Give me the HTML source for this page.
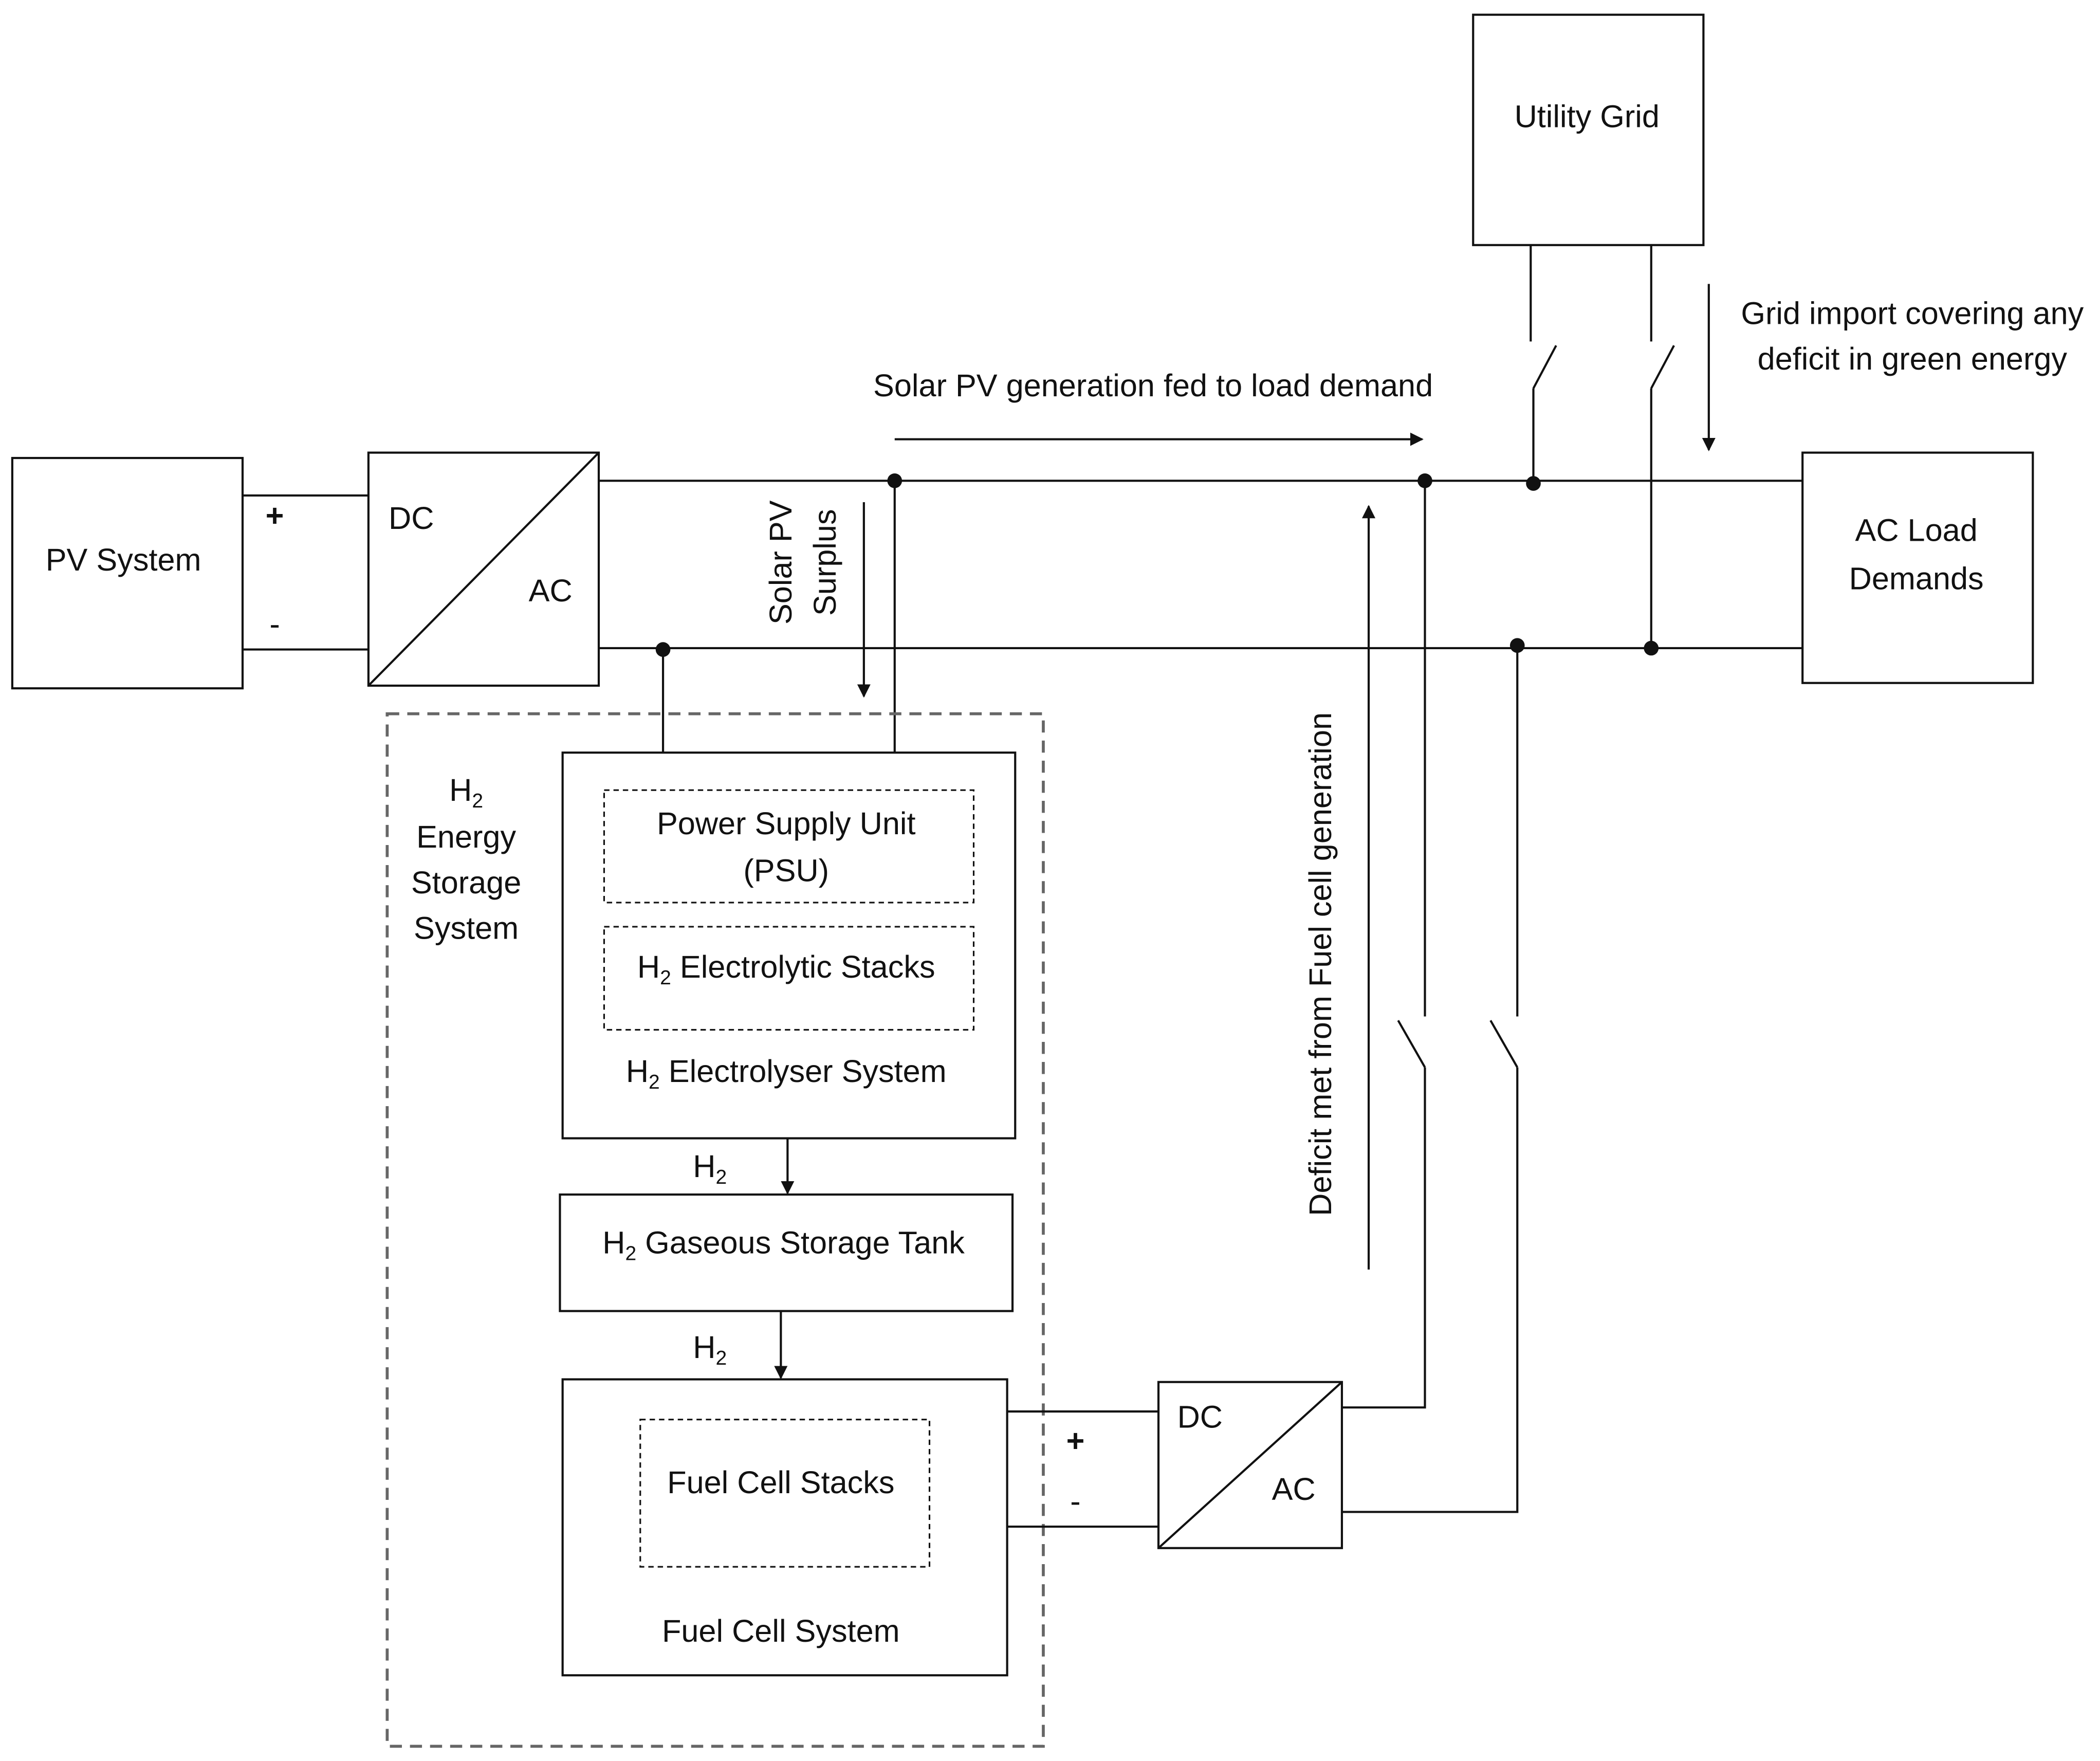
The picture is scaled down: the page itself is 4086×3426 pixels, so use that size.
<!DOCTYPE html>
<html><head><meta charset="utf-8"><style>
html,body{margin:0;padding:0;background:#fff;}
svg{display:block;}
text{font-family:"Liberation Sans",sans-serif;font-size:23.5px;fill:#111;text-anchor:middle;}
</style></head><body>
<svg width="4086" height="3426" viewBox="0 0 1568 1315" xmlns="http://www.w3.org/2000/svg">
<defs><marker id="a" markerWidth="10" markerHeight="10" refX="9" refY="5" orient="auto" markerUnits="userSpaceOnUse"><path d="M0,0 L10,5 L0,10 Z" fill="#111"/></marker></defs>
<g fill="none" stroke="#111" stroke-width="1.6">
<rect x="9" y="342" width="172" height="172"/>
<rect x="275" y="338" width="172" height="174"/>
<line x1="275" y1="512" x2="447" y2="338"/>
<line x1="181" y1="370" x2="275" y2="370"/>
<line x1="181" y1="485" x2="275" y2="485"/>
<line x1="447" y1="359" x2="1346" y2="359"/>
<line x1="447" y1="484" x2="1346" y2="484"/>
<rect x="1346" y="338" width="172" height="172"/>
<rect x="1100" y="11" width="172" height="172"/>
<polyline points="1143,183 1143,255"/><line x1="1162" y1="258" x2="1145" y2="290"/><line x1="1145" y1="290" x2="1145" y2="361"/>
<polyline points="1233,183 1233,255"/><line x1="1250" y1="258" x2="1233" y2="290"/><line x1="1233" y1="290" x2="1233" y2="484"/>
<line x1="1276" y1="212" x2="1276" y2="336" marker-end="url(#a)"/>
<line x1="668" y1="328" x2="1062" y2="328" marker-end="url(#a)"/>
<line x1="645" y1="375" x2="645" y2="520" marker-end="url(#a)"/>
<line x1="668" y1="359" x2="668" y2="562"/>
<line x1="495" y1="485" x2="495" y2="562"/>
<rect x="289" y="533" width="490" height="771" stroke="#666" stroke-width="2.2" stroke-dasharray="9,6"/>
<rect x="420" y="562" width="338" height="288"/>
<rect x="451" y="590" width="276" height="84" stroke-width="1.2" stroke-dasharray="4,3"/>
<rect x="451" y="692" width="276" height="77" stroke-width="1.2" stroke-dasharray="4,3"/>
<line x1="588" y1="850" x2="588" y2="891" marker-end="url(#a)"/>
<rect x="418" y="892" width="338" height="87"/>
<line x1="583" y1="979" x2="583" y2="1029" marker-end="url(#a)"/>
<rect x="420" y="1030" width="332" height="221"/>
<rect x="478" y="1060" width="216" height="110" stroke-width="1.2" stroke-dasharray="4,3"/>
<line x1="752" y1="1054" x2="865" y2="1054"/>
<line x1="752" y1="1140" x2="865" y2="1140"/>
<rect x="865" y="1032" width="137" height="124"/>
<line x1="865" y1="1156" x2="1002" y2="1032"/>
<polyline points="1002,1051 1064,1051 1064,797"/><line x1="1064" y1="797" x2="1044" y2="762"/><line x1="1064" y1="759" x2="1064" y2="359"/>
<polyline points="1002,1129 1133,1129 1133,797"/><line x1="1133" y1="797" x2="1113" y2="762"/><line x1="1133" y1="759" x2="1133" y2="482"/>
<line x1="1022" y1="948" x2="1022" y2="378" marker-end="url(#a)"/>
</g>
<g fill="#111">
<circle cx="668" cy="359" r="5.5"/><circle cx="1064" cy="359" r="5.5"/><circle cx="1145" cy="361" r="5.5"/>
<circle cx="495" cy="485" r="5.5"/><circle cx="1133" cy="482" r="5.5"/><circle cx="1233" cy="484" r="5.5"/>
</g>
<text x="92" y="426">PV System</text>
<text x="205" y="393" style="font-weight:bold">+</text>
<text x="205" y="474">-</text>
<text x="307" y="395">DC</text>
<text x="411" y="449">AC</text>
<text x="1431" y="404">AC Load</text>
<text x="1431" y="440">Demands</text>
<text x="1185" y="95">Utility Grid</text>
<text x="1428" y="242">Grid import covering any</text>
<text x="1428" y="276">deficit in green energy</text>
<text x="861" y="296">Solar PV generation fed to load demand</text>
<text transform="translate(591,420) rotate(-90)">Solar PV</text>
<text transform="translate(624,420) rotate(-90)">Surplus</text>
<text transform="translate(994,720) rotate(-90)">Deficit met from Fuel cell generation</text>
<text x="348" y="598">H<tspan font-size="15" dy="5">2</tspan></text>
<text x="348" y="633">Energy</text>
<text x="348" y="667">Storage</text>
<text x="348" y="701">System</text>
<text x="587" y="623">Power Supply Unit</text>
<text x="587" y="658">(PSU)</text>
<text x="587" y="730">H<tspan font-size="15" dy="5">2</tspan><tspan dy="-5"> Electrolytic Stacks</tspan></text>
<text x="587" y="808">H<tspan font-size="15" dy="5">2</tspan><tspan dy="-5"> Electrolyser System</tspan></text>
<text x="530" y="879">H<tspan font-size="15" dy="5">2</tspan></text>
<text x="585" y="936">H<tspan font-size="15" dy="5">2</tspan><tspan dy="-5"> Gaseous Storage Tank</tspan></text>
<text x="530" y="1014">H<tspan font-size="15" dy="5">2</tspan></text>
<text x="583" y="1115">Fuel Cell Stacks</text>
<text x="583" y="1226">Fuel Cell System</text>
<text x="803" y="1084" style="font-weight:bold">+</text>
<text x="803" y="1129">-</text>
<text x="896" y="1066">DC</text>
<text x="966" y="1120">AC</text>
</svg>
</body></html>
